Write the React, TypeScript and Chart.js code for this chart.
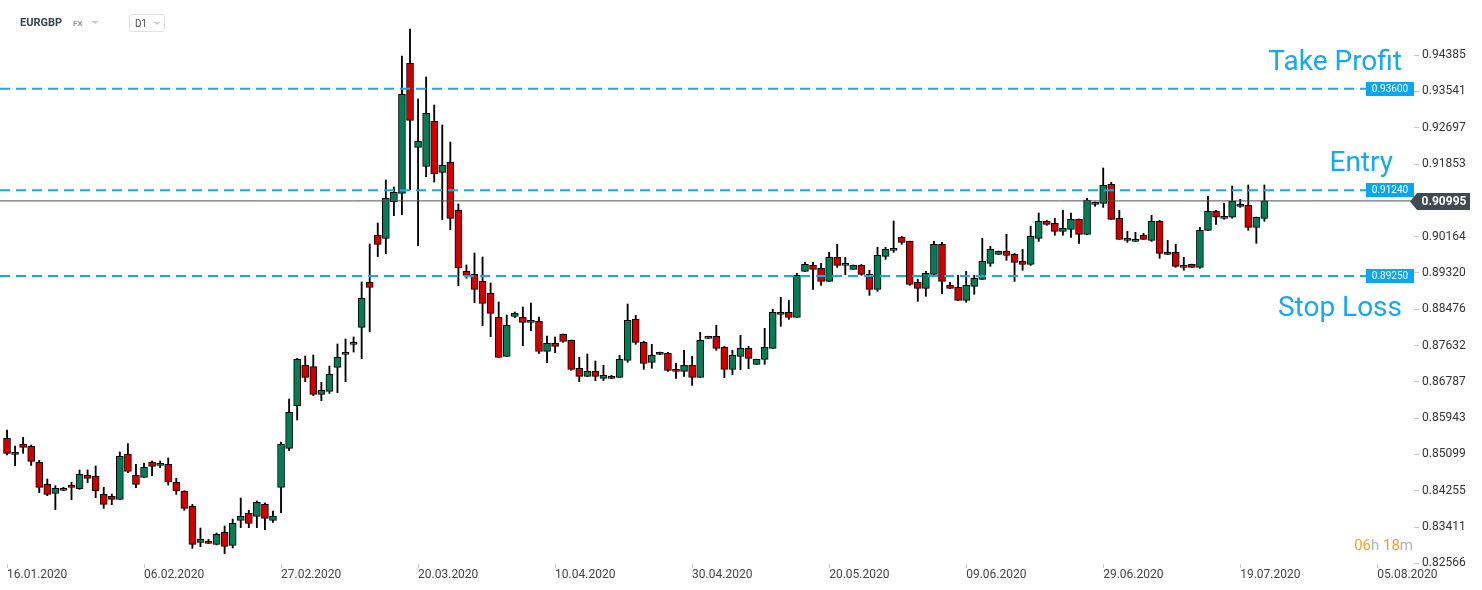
import React, { useEffect, useRef } from "react";
import { Chart, registerables } from "chart.js";

Chart.register(...registerables);

// ---- data (EURGBP, D1) ----
const opens = [
  0.85475, 0.85149, 0.85343, 0.85289, 0.84917, 0.84405, 0.84196, 0.84266, 0.84382, 0.84305,
  0.84615, 0.84591, 0.84173, 0.84126, 0.84057, 0.8511, 0.84615, 0.84568, 0.84925, 0.84847,
  0.8487, 0.84452, 0.8425, 0.83894, 0.83057, 0.8308, 0.8301, 0.83289, 0.82987, 0.83568,
  0.83731, 0.83661, 0.8394, 0.83568, 0.84335, 0.85242, 0.86234, 0.87172, 0.87141, 0.86498,
  0.86568, 0.87125, 0.87428, 0.8766, 0.88056, 0.89102, 0.90195, 0.90125, 0.90977, 0.91171,
  0.94194, 0.9224, 0.91799, 0.92845, 0.91659, 0.91892, 0.90776, 0.89358, 0.89288, 0.89125,
  0.88846, 0.88288, 0.87381, 0.88311, 0.88288, 0.88172, 0.88195, 0.87497, 0.87683, 0.87893,
  0.87753, 0.87102, 0.86916, 0.87032, 0.8687, 0.86916, 0.86893, 0.87288, 0.88241, 0.87706,
  0.87242, 0.87474, 0.87451, 0.87079, 0.87032, 0.87172, 0.86893, 0.87799, 0.87846, 0.8759,
  0.87079, 0.87381, 0.87567, 0.87195, 0.87311, 0.87567, 0.88404, 0.88404, 0.88288, 0.89357,
  0.89497, 0.89427, 0.89125, 0.89683, 0.89497, 0.89404, 0.89497, 0.89288, 0.88939, 0.89706,
  0.89846, 0.90148, 0.90055, 0.89102, 0.88962, 0.89288, 0.89985, 0.89032, 0.88986, 0.88683,
  0.89009, 0.89171, 0.89543, 0.89753, 0.89822, 0.89753, 0.8959, 0.8952, 0.90125, 0.9052,
  0.90474, 0.90288, 0.90334, 0.90567, 0.90218, 0.90915, 0.90938, 0.9138, 0.9059, 0.90125,
  0.90055, 0.90195, 0.90078, 0.9052, 0.89799, 0.89799, 0.89497, 0.89521, 0.89451, 0.90311,
  0.90753, 0.9059, 0.90614, 0.90916, 0.90893, 0.90381, 0.9059,
];
const highs = [
  0.85668, 0.85297, 0.85498, 0.8532, 0.84963, 0.84529, 0.84374, 0.84336, 0.84452, 0.84739,
  0.84739, 0.84832, 0.84335, 0.84181, 0.85157, 0.85351, 0.8487, 0.84901, 0.84948, 0.84948,
  0.85018, 0.84545, 0.84258, 0.8394, 0.8339, 0.83127, 0.83274, 0.83437, 0.83599, 0.84088,
  0.83801, 0.84018, 0.83971, 0.83785, 0.8539, 0.86389, 0.87335, 0.87389, 0.87413, 0.86777,
  0.87156, 0.87668, 0.87784, 0.87831, 0.8911, 0.89993, 0.90481, 0.91481, 0.91318, 0.94364,
  0.94992, 0.93364, 0.93876, 0.93225, 0.9276, 0.92365, 0.90923, 0.89505, 0.89784, 0.89691,
  0.89086, 0.88644, 0.88342, 0.88412, 0.88528, 0.88621, 0.88296, 0.87854, 0.87831, 0.879,
  0.8776, 0.87358, 0.87435, 0.87273, 0.87172, 0.86939, 0.87404, 0.88598, 0.88334, 0.8773,
  0.8766, 0.8748, 0.87474, 0.87218, 0.8752, 0.87381, 0.87939, 0.8785, 0.88102, 0.87613,
  0.87521, 0.87869, 0.87613, 0.87315, 0.88032, 0.88474, 0.88753, 0.88683, 0.89311, 0.89567,
  0.89567, 0.89543, 0.89799, 0.89985, 0.89683, 0.89505, 0.8952, 0.89381, 0.89915, 0.89915,
  0.90528, 0.90171, 0.9006, 0.89171, 0.89357, 0.90055, 0.90032, 0.89102, 0.89264, 0.89357,
  0.89264, 0.90125, 0.89939, 0.8983, 0.90218, 0.89776, 0.89869, 0.90404, 0.90714, 0.90543,
  0.9059, 0.90776, 0.90714, 0.9057, 0.91055, 0.9097, 0.9176, 0.91427, 0.90776, 0.90288,
  0.90264, 0.90241, 0.9066, 0.90543, 0.90078, 0.89985, 0.89683, 0.89525, 0.90381, 0.91102,
  0.90776, 0.90939, 0.91342, 0.91032, 0.91365, 0.9062, 0.91365,
];
const lows = [
  0.85087, 0.84839, 0.85126, 0.84847, 0.84211, 0.84142, 0.83816, 0.84258, 0.84049, 0.84289,
  0.84444, 0.84095, 0.83847, 0.83933, 0.8405, 0.84676, 0.84328, 0.8456, 0.84607, 0.84793,
  0.8439, 0.84173, 0.83801, 0.82917, 0.82956, 0.83026, 0.82995, 0.82793, 0.82925, 0.83398,
  0.83398, 0.83398, 0.83351, 0.83522, 0.83747, 0.85188, 0.85901, 0.86792, 0.86467, 0.86351,
  0.86521, 0.86537, 0.86792, 0.87482, 0.87327, 0.87955, 0.89699, 0.89768, 0.90652, 0.90675,
  0.91249, 0.89954, 0.91559, 0.91435, 0.90559, 0.90326, 0.89024, 0.89195, 0.88629, 0.88094,
  0.87838, 0.8735, 0.87373, 0.8828, 0.87629, 0.87978, 0.87451, 0.87234, 0.87466, 0.87707,
  0.87056, 0.86792, 0.8691, 0.86815, 0.86815, 0.86862, 0.8689, 0.87242, 0.8766, 0.87079,
  0.87102, 0.8742, 0.87032, 0.8687, 0.86916, 0.86707, 0.8689, 0.87795, 0.87521, 0.86885,
  0.86955, 0.87071, 0.87094, 0.8719, 0.87195, 0.8756, 0.88079, 0.88241, 0.8828, 0.8935,
  0.88939, 0.89032, 0.8912, 0.8945, 0.8928, 0.894, 0.89264, 0.88799, 0.88892, 0.89636,
  0.89799, 0.89985, 0.89032, 0.8866, 0.88776, 0.8928, 0.88838, 0.88955, 0.8868, 0.88637,
  0.88823, 0.89165, 0.89474, 0.89745, 0.89613, 0.89125, 0.89381, 0.89497, 0.90055, 0.90427,
  0.90195, 0.90195, 0.90148, 0.90008, 0.9021, 0.90869, 0.90845, 0.9056, 0.90095, 0.90032,
  0.9005, 0.90095, 0.90055, 0.8966, 0.89745, 0.8945, 0.89381, 0.89445, 0.89428, 0.90305,
  0.90451, 0.90567, 0.9059, 0.90846, 0.90311, 0.90009, 0.90521,
];
const closes = [
  0.85126, 0.85103, 0.85266, 0.8494, 0.84335, 0.84173, 0.84312, 0.84312, 0.84335, 0.84638,
  0.84545, 0.8425, 0.8394, 0.84057, 0.85056, 0.84707, 0.84405, 0.84801, 0.84824, 0.84894,
  0.8446, 0.8425, 0.83847, 0.8301, 0.83127, 0.83034, 0.83243, 0.82964, 0.83499, 0.83661,
  0.83499, 0.83987, 0.83615, 0.83669, 0.85343, 0.86079, 0.87311, 0.86893, 0.86498, 0.86591,
  0.86963, 0.87358, 0.87474, 0.87707, 0.8873, 0.88986, 0.89985, 0.91055, 0.91194, 0.93473,
  0.92868, 0.9238, 0.93031, 0.91628, 0.91822, 0.9059, 0.89443, 0.89265, 0.88939, 0.88613,
  0.88381, 0.87358, 0.88102, 0.88381, 0.88172, 0.88218, 0.87497, 0.87683, 0.87613, 0.8773,
  0.87079, 0.86916, 0.87032, 0.86916, 0.86939, 0.8687, 0.87311, 0.88218, 0.87706, 0.87218,
  0.87404, 0.87428, 0.87056, 0.87032, 0.87172, 0.86893, 0.87753, 0.87846, 0.87567, 0.87079,
  0.87404, 0.87567, 0.87334, 0.87311, 0.8759, 0.88404, 0.88357, 0.88288, 0.89264, 0.8952,
  0.89404, 0.89125, 0.89683, 0.89497, 0.89543, 0.89497, 0.89288, 0.88939, 0.89729, 0.89869,
  0.89892, 0.90032, 0.89055, 0.88962, 0.89311, 0.89985, 0.89125, 0.88962, 0.88683, 0.89032,
  0.89195, 0.8959, 0.89869, 0.89822, 0.89729, 0.89567, 0.8952, 0.90171, 0.9052, 0.9045,
  0.90288, 0.90357, 0.90567, 0.90218, 0.91016, 0.90962, 0.91357, 0.90567, 0.90102, 0.90078,
  0.90102, 0.90102, 0.9052, 0.89776, 0.89753, 0.89474, 0.89451, 0.89451, 0.90311, 0.90753,
  0.90614, 0.90637, 0.90986, 0.90869, 0.90381, 0.90614, 0.90995,
];

const xTickLabels = [
  "16.01.2020", "06.02.2020", "27.02.2020", "20.03.2020", "10.04.2020", "30.04.2020",
  "20.05.2020", "09.06.2020", "29.06.2020", "19.07.2020", "05.08.2020",
];
const xTickStep = 17;
const yTickValues = [
  0.94385, 0.93541, 0.92697, 0.91853, 0.90164, 0.8932, 0.88476, 0.87632, 0.86787,
  0.85943, 0.85099, 0.84255, 0.83411, 0.82566,
];
const levelValues = [0.936, 0.9124, 0.8925];
const levelNames = ["Take Profit", "Entry", "Stop Loss"];
const currentPrice = 0.90995;
const countdownParts = ["06", "h ", "18", "m"];

const X_MIN = -0.8685;
const X_MAX = 174.56;
const Y_MIN = 0.82553;
const Y_MAX = 0.95666;

const GREEN = "#057c56";
const RED = "#d10000";
const BLUE = "#16a8f0";
const BOX_BLUE = "#0aa6ef";

const overlayPlugin = {
  id: "overlay",
  afterDraw(chart: any) {
    const { ctx, chartArea } = chart;
    const y = chart.scales.y;
    const right = chartArea.right;
    ctx.save();
    levelValues.forEach((v, i) => {
      const yc = y.getPixelForValue(v);
      ctx.fillStyle = BOX_BLUE;
      ctx.fillRect(right - 48, Math.round(yc) - 7, 48, 14);
      ctx.fillStyle = "#ffffff";
      ctx.font = "10px Roboto";
      ctx.textAlign = "center";
      ctx.textBaseline = "middle";
      ctx.fillText(v.toFixed(5), right - 24, Math.round(yc) + 0.5);
      ctx.fillStyle = BLUE;
      ctx.font = "28px Roboto";
      ctx.textAlign = "right";
      ctx.textBaseline = "alphabetic";
      const offs = [[-12, -19], [-21, -19], [-12, 40]];
      ctx.fillText(levelNames[i], right + offs[i][0], yc + offs[i][1]);
    });
    const yp = Math.round(y.getPixelForValue(currentPrice)) + 0.5;
    ctx.fillStyle = "#3f4a53";
    ctx.beginPath();
    ctx.moveTo(right - 4, yp);
    ctx.lineTo(right + 3, yp - 8.5);
    ctx.lineTo(right + 56, yp - 8.5);
    ctx.lineTo(right + 56, yp + 8.5);
    ctx.lineTo(right + 3, yp + 8.5);
    ctx.closePath();
    ctx.fill();
    ctx.fillStyle = "#ffffff";
    ctx.font = "bold 12px Roboto";
    ctx.textAlign = "center";
    ctx.textBaseline = "middle";
    ctx.fillText(currentPrice.toFixed(5), right + 30, yp + 0.5);
    ctx.font = "15px Roboto";
    ctx.textAlign = "left";
    ctx.textBaseline = "alphabetic";
    const total = countdownParts.reduce((s, p) => s + ctx.measureText(p).width, 0);
    let cx = right - 1 - total;
    countdownParts.forEach((p, i) => {
      ctx.fillStyle = i % 2 === 0 ? "#f59e2f" : "#b3b3b3";
      ctx.fillText(p, cx, chartArea.bottom - 14);
      cx += ctx.measureText(p).width;
    });
    ctx.restore();
  },
};

export default function App() {
  const ref = useRef<HTMLCanvasElement | null>(null);

  useEffect(() => {
    if (!ref.current) return;
    Chart.defaults.font.family = "Roboto";
    const idx = opens.map((_, i) => i);
    const bodies = idx.map((i) => ({ x: i, y: [opens[i], closes[i]] }));
    const wicks = idx.map((i) => ({ x: i, y: [lows[i], highs[i]] }));
    const colors = idx.map((i) => (closes[i] >= opens[i] ? GREEN : RED));
    const levelLine = (v: number) => [
      { x: X_MIN, y: v },
      { x: X_MAX, y: v },
    ];

    const chart = new Chart(ref.current, {
      type: "bar",
      data: {
        datasets: [
          ...levelValues.map((v) => ({
            type: "line" as const,
            data: levelLine(v),
            borderColor: BLUE,
            borderWidth: 2,
            borderDash: [10, 6],
            pointRadius: 0,
            fill: false,
            order: -2,
          })),
          {
            type: "line" as const,
            data: levelLine(currentPrice),
            borderColor: "#4d5358",
            borderWidth: 1,
            pointRadius: 0,
            fill: false,
            order: -1,
          },
          {
            type: "bar" as const,
            data: bodies as any,
            backgroundColor: colors,
            borderColor: "#000000",
            borderWidth: 1,
            borderSkipped: false,
            barThickness: 7,
            minBarLength: 2,
            grouped: false,
            order: 0,
          },
          {
            type: "bar" as const,
            data: wicks as any,
            backgroundColor: "#000000",
            borderWidth: 0,
            barThickness: 1.2,
            minBarLength: 1,
            grouped: false,
            order: 1,
          },
        ],
      },
      options: {
        responsive: false,
        animation: false,
        events: [],
        layout: { padding: 0 },
        plugins: {
          legend: { display: false },
          tooltip: { enabled: false },
        },
        scales: {
          x: {
            type: "linear",
            position: "bottom",
            min: X_MIN,
            max: X_MAX,
            offset: false,
            beginAtZero: false,
            grid: {
              offset: false,
              drawOnChartArea: false,
              drawTicks: true,
              tickLength: 4,
              color: "#c9c9c9",
            },
            border: { display: false },
            afterBuildTicks: (scale: any) => {
              scale.ticks = xTickLabels.map((_, k) => ({ value: k * xTickStep }));
            },
            afterFit: (scale: any) => {
              scale.height = 26;
              scale.paddingLeft = 0;
              scale.paddingRight = 0;
            },
            ticks: {
              autoSkip: false,
              maxRotation: 0,
              align: "start",
              padding: 0,
              color: "#444444",
              font: { size: 12, family: "Roboto" },
              callback: (_v: any, i: number) => xTickLabels[i],
            },
          },
          y: {
            type: "linear",
            position: "right",
            min: Y_MIN,
            max: Y_MAX,
            beginAtZero: false,
            grid: {
              drawOnChartArea: false,
              drawTicks: true,
              tickLength: 5,
              color: "#c9c9c9",
            },
            border: { display: false },
            afterBuildTicks: (scale: any) => {
              scale.ticks = yTickValues.map((v) => ({ value: v }));
            },
            afterFit: (scale: any) => {
              scale.width = 68;
              scale.paddingTop = 0;
              scale.paddingBottom = 0;
            },
            ticks: {
              padding: 3,
              color: "#333333",
              font: { size: 12, family: "Roboto" },
              callback: (v: any) => Number(v).toFixed(5),
            },
          },
        },
      },
      plugins: [overlayPlugin],
    } as any);

    return () => chart.destroy();
  }, []);

  const tri = (color: string): React.CSSProperties => ({
    position: "absolute",
    width: 0,
    height: 0,
    borderLeft: "4px solid transparent",
    borderRight: "4px solid transparent",
    borderTop: `3px solid ${color}`,
  });

  return (
    <div
      style={{
        position: "fixed",
        left: 0,
        top: 0,
        width: 1482,
        height: 590,
        background: "#ffffff",
        fontFamily: "Roboto, sans-serif",
      }}
    >
      <canvas ref={ref} width={1482} height={590} style={{ display: "block" }} />
      <div
        style={{
          position: "absolute",
          left: 20,
          top: 16,
          fontSize: 11,
          lineHeight: "14px",
          fontWeight: 700,
          color: "#34434e",
        }}
      >
        EURGBP
      </div>
      <div
        style={{
          position: "absolute",
          left: 73,
          top: 18,
          fontSize: 8,
          lineHeight: "12px",
          fontWeight: 700,
          color: "#8d9ca7",
        }}
      >
        FX
      </div>
      <div style={{ ...tri("#c8cfd4"), left: 91, top: 21 }} />
      <div
        style={{
          position: "absolute",
          left: 129,
          top: 14,
          width: 36,
          height: 18,
          boxSizing: "border-box",
          border: "1px solid #dfe3e6",
          borderRadius: 3,
        }}
      >
        <div
          style={{
            position: "absolute",
            left: 5,
            top: 2,
            fontSize: 10,
            lineHeight: "13px",
            color: "#4f4f4f",
          }}
        >
          D1
        </div>
        <div style={{ ...tri("#c8cfd4"), left: 23, top: 7 }} />
      </div>
    </div>
  );
}
